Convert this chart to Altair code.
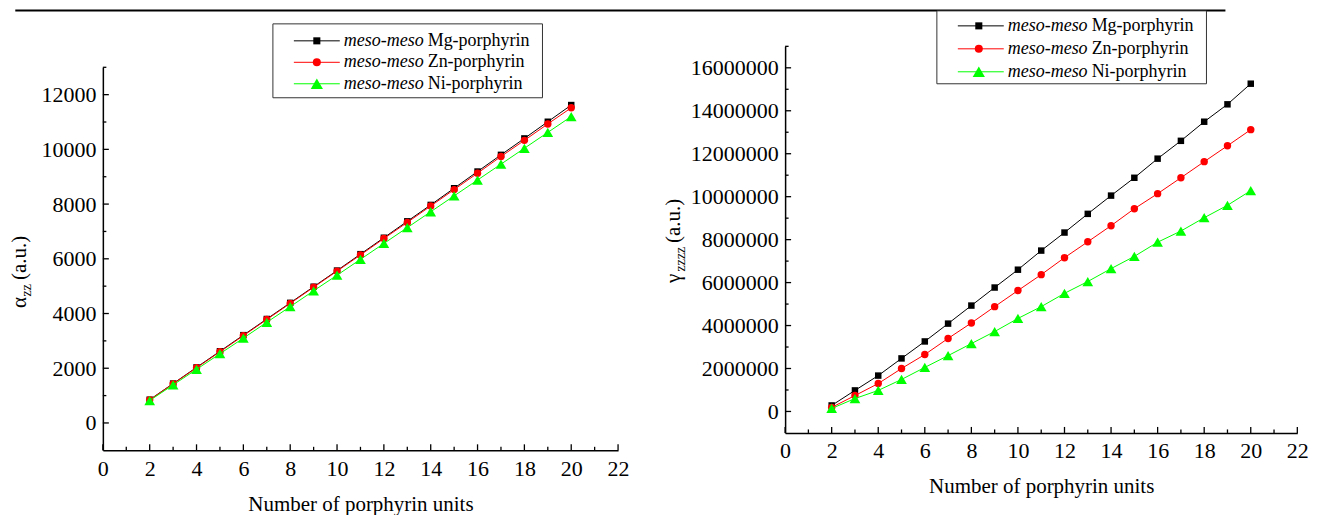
import altair as alt
import pandas as pd

FONT = "Liberation Serif"

# ---------------- data ----------------
units = list(range(2, 21))

alpha_mg = [850, 1440, 2030, 2620, 3210, 3800, 4390, 4980, 5570, 6170,
            6770, 7370, 7970, 8580, 9190, 9800, 10400, 11010, 11620]
alpha_zn = [845, 1430, 2015, 2600, 3190, 3780, 4370, 4960, 5550, 6140,
            6740, 7330, 7930, 8530, 9130, 9740, 10330, 10930, 11520]
alpha_ni = [820, 1390, 1960, 2530, 3100, 3680, 4250, 4830, 5400, 5980,
            6560, 7140, 7720, 8300, 8880, 9460, 10040, 10620, 11200]

gamma_mg = [280000, 980000, 1670000, 2470000, 3260000, 4090000, 4930000, 5770000,
            6600000, 7490000, 8330000, 9200000, 10050000, 10880000, 11770000,
            12600000, 13490000, 14300000, 15260000]
gamma_zn = [190000, 740000, 1300000, 2000000, 2650000, 3400000, 4120000, 4880000,
            5630000, 6370000, 7160000, 7900000, 8650000, 9440000, 10140000,
            10880000, 11630000, 12370000, 13120000]
gamma_ni = [140000, 600000, 980000, 1490000, 2050000, 2600000, 3160000, 3720000,
            4330000, 4880000, 5500000, 6050000, 6650000, 7220000, 7880000,
            8400000, 9020000, 9600000, 10280000]

series_prefix = "meso-meso"
series_labels = ["Mg-porphyrin", "Zn-porphyrin", "Ni-porphyrin"]
series_colors = ["#000000", "#ff0000", "#00ff00"]
series_shapes = ["square", "circle", "triangle-up"]
series_sizes = [42, 55, 115]
legend_sizes = [50, 65, 150]

x_major = [0, 2, 4, 6, 8, 10, 12, 14, 16, 18, 20, 22]
x_minor = [1, 3, 5, 7, 9, 11, 13, 15, 17, 19, 21]
alpha_major = [0, 2000, 4000, 6000, 8000, 10000, 12000]
alpha_minor = [1000, 3000, 5000, 7000, 9000, 11000, 13000]
gamma_major = [0, 2000000, 4000000, 6000000, 8000000, 10000000,
               12000000, 14000000, 16000000]
gamma_minor = [1000000, 3000000, 5000000, 7000000, 9000000, 11000000,
               13000000, 15000000, 17000000]

X_TITLE = "Number of porphyrin units"


def one(**kw):
    return pd.DataFrame([kw])


def panel(W, H, y_domain, y_range, series, y_major, y_minor, leg, ytitle):
    xs = alt.Scale(domain=[0, 22], nice=False, zero=False)
    ys = alt.Scale(domain=y_domain, range=y_range, nice=False, zero=False)
    x_axis = alt.Axis(values=x_major, ticks=False, grid=False, domainWidth=1.5,
                      domainColor="black", labelFont=FONT, labelFontSize=22,
                      labelColor="black", labelPadding=8, labelFlush=False,
                      title=X_TITLE, titleFont=FONT, titleFontSize=21,
                      titleFontWeight="normal", titleColor="black", titlePadding=14)
    y_axis = alt.Axis(values=y_major, ticks=False, grid=False, domainWidth=1.5,
                      domainColor="black", labelFont=FONT, labelFontSize=22,
                      labelColor="black", labelPadding=7, format="d",
                      labelFlush=False, title="")
    layers = []
    for vals, col, shp, sz in zip(series, series_colors, series_shapes, series_sizes):
        df = pd.DataFrame({"n": units, "v": vals})
        enc = dict(
            x=alt.X("n:Q", scale=xs, axis=x_axis),
            y=alt.Y("v:Q", scale=ys, axis=y_axis),
        )
        layers.append(alt.Chart(df).mark_line(color=col, strokeWidth=1).encode(**enc))
        layers.append(alt.Chart(df).mark_point(shape=shp, size=sz, filled=True,
                                               color=col, opacity=1).encode(**enc))
    # inward ticks
    for vals, ln in ((x_major, 6), (x_minor, 3.5)):
        layers.append(alt.Chart(pd.DataFrame({"n": vals})).mark_rule(
            color="black", strokeWidth=1.3).encode(
            x=alt.X("n:Q", scale=xs, axis=x_axis), y=alt.value(H), y2=alt.value(H - ln)))
    for vals, ln in ((y_major, 6), (y_minor, 3.5)):
        layers.append(alt.Chart(pd.DataFrame({"v": vals})).mark_rule(
            color="black", strokeWidth=1.3).encode(
            y=alt.Y("v:Q", scale=ys, axis=y_axis), x=alt.value(0), x2=alt.value(ln)))
    # y title (with subscript)
    for txt, xb, yb, fs in ytitle:
        layers.append(alt.Chart(one(t=txt)).mark_text(
            angle=270, align="left", baseline="alphabetic", font=FONT,
            fontSize=fs, color="black").encode(
            text="t:N", x=alt.value(xb), y=alt.value(yb)))
    # legend
    bx0, bx1, by0, by1, rows, lx0, lx1, mx, tx = leg
    layers.append(alt.Chart(one(a=1)).mark_rect(
        fill="white", stroke="#333333", strokeWidth=1).encode(
        x=alt.value(bx0), x2=alt.value(bx1), y=alt.value(by0), y2=alt.value(by1)))
    for ry, lab, col, shp, sz in zip(rows, series_labels, series_colors,
                                      series_shapes, legend_sizes):
        layers.append(alt.Chart(one(a=1)).mark_rule(color=col, strokeWidth=1).encode(
            x=alt.value(lx0), x2=alt.value(lx1), y=alt.value(ry)))
        layers.append(alt.Chart(one(a=1)).mark_point(
            shape=shp, size=sz, filled=True, color=col, opacity=1).encode(
            x=alt.value(mx), y=alt.value(ry)))
        layers.append(alt.Chart(one(t=series_prefix)).mark_text(
            align="left", baseline="middle", font=FONT, fontSize=18,
            fontStyle="italic", color="black").encode(
            text="t:N", x=alt.value(tx), y=alt.value(ry)))
        layers.append(alt.Chart(one(t=lab)).mark_text(
            align="left", baseline="middle", font=FONT, fontSize=18,
            color="black").encode(
            text="t:N", x=alt.value(tx + 84), y=alt.value(ry)))
    return layers


# left panel: plot origin at page (102.7, 45.5)
LW, LH = 516, 404.6
left_layers = panel(
    LW, LH, [-1000, 13000], [LH, 21], [alpha_mg, alpha_zn, alpha_ni],
    alpha_major, alpha_minor,
    (170.3, 440.3, -22.5, 51.5, [-5.5, 16, 37.5], 191.3, 237.3, 214.3, 241.3),
    [("α", -77, 262, 21), ("zz", -72, 250.5, 14), ("(a.u.)", -77, 234, 21)])

# page-level decorations kept in left panel: top rule + invisible anchor
left_layers.append(alt.Chart(one(a=1)).mark_rule(color="black", strokeWidth=2.2).encode(
    x=alt.value(-87.7), x2=alt.value(1124.3), y=alt.value(-35.9)))
left_layers.append(alt.Chart(one(a=1)).mark_rect(opacity=0).encode(
    x=alt.value(-94.7), x2=alt.value(-93.7), y=alt.value(-37.5), y2=alt.value(-36.5)))

left = alt.layer(*left_layers).properties(width=LW, height=LH)

# right panel: plot origin at page (786, 45.5)
RW, RH = 513, 387.2
right_layers = panel(
    RW, RH, [-1000000, 17000000], [RH, 0], [gamma_mg, gamma_zn, gamma_ni],
    gamma_major, gamma_minor,
    (152, 422, -35.5, 37.5, [-20.5, 2.5, 25.5], 173, 219, 194, 223),
    [("γ", -105, 237, 21), ("zzzz", -100.5, 225.5, 14), ("(a.u.)", -105, 197, 21)])
right = alt.layer(*right_layers).properties(width=RW, height=RH)

chart = alt.hconcat(left, right, spacing=167.3, bounds="flush").properties(
    padding=0, background="white"
).configure_view(stroke=None)

chart.save("out.html", embed_options={"renderer": "svg", "actions": False})
